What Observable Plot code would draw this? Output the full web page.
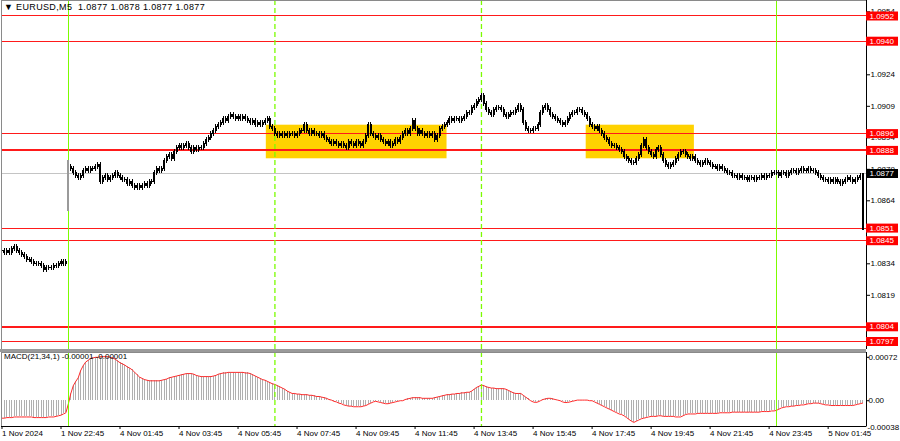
<!DOCTYPE html>
<html><head><meta charset="utf-8">
<script src="https://cdn.jsdelivr.net/npm/d3@7"></script>
<script src="https://cdn.jsdelivr.net/npm/@observablehq/plot@0.6"></script>
<style>
html,body{margin:0;padding:0;background:#fff;}
#wrap{position:relative;width:900px;height:441px;overflow:hidden;font-family:"Liberation Sans",Arial,sans-serif;background:#fff;}
#main{position:absolute;left:0;top:0;}
#sep{position:absolute;left:0;top:349px;width:866px;height:3px;background:#9a9a9a;}
#macd{position:absolute;left:0;top:352px;}
.lbl{position:absolute;font-size:8px;color:#000;white-space:pre;line-height:10px;}
#hdr{font-size:9px;letter-spacing:0.35px;}
</style></head>
<body>
<div id="wrap">
  <div id="main"></div>
  <div id="sep"></div>
  <div id="macd"></div>
  <div class="lbl" id="hdr" style="left:4px;top:2px"></div>
  <div class="lbl" id="mtitle" style="left:4px;top:352px"></div>
</div>
<script>
// ---------- DATA ----------
const headerText = "\u25BC EURUSD,M5  1.0877 1.0878 1.0877 1.0877";
const macdTitle = "MACD(21,34,1) -0.00001 -0.00001";

// M5 closes, one per bar (bar 0 = 1 Nov, bar 27 = first Monday bar)
const closes = [
1.0840,1.0839,1.0840,1.0839,1.0841,1.0842,1.0840,1.0839,1.0838,1.0837,
1.0836,1.0836,1.0835,1.0834,1.0834,1.0834,1.0833,1.0831,1.0832,1.0832,
1.0832,1.0833,1.0833,1.0834,1.0835,1.0834,1.0835,
1.0880,1.0879,1.0877,1.0876,1.0875,1.0876,1.0878,1.0879,1.0878,1.0879,
1.0879,1.0880,1.0881,1.0873,1.0875,1.0876,1.0874,1.0875,1.0876,1.0877,
1.0876,1.0875,1.0874,1.0874,1.0872,1.0873,1.0871,1.0870,1.0871,1.0870,
1.0871,1.0872,1.0871,1.0873,1.0873,1.0877,1.0879,1.0878,1.0879,1.0883,
1.0885,1.0886,1.0884,1.0887,1.0889,1.0890,1.0889,1.0890,1.0891,1.0889,
1.0887,1.0889,1.0888,1.0889,1.0889,1.0891,1.0893,1.0894,1.0896,1.0897,
1.0899,1.0900,1.0901,1.0903,1.0902,1.0904,1.0905,1.0904,1.0903,1.0904,
1.0903,1.0904,1.0903,1.0902,1.0901,1.0902,1.0900,1.0901,1.0900,1.0901,
1.0902,1.0903,1.0899,1.0898,1.0896,1.0895,1.0896,1.0895,1.0896,1.0895,
1.0896,1.0896,1.0895,1.0896,1.0897,1.0897,1.0900,1.0897,1.0896,1.0897,
1.0896,1.0896,1.0895,1.0896,1.0894,1.0893,1.0892,1.0891,1.0892,1.0891,
1.0890,1.0891,1.0890,1.0889,1.0892,1.0891,1.0890,1.0892,1.0891,1.0890,
1.0892,1.0895,1.0900,1.0896,1.0895,1.0894,1.0895,1.0893,1.0892,1.0891,
1.0892,1.0890,1.0891,1.0893,1.0892,1.0894,1.0896,1.0897,1.0896,1.0898,
1.0902,1.0898,1.0896,1.0897,1.0896,1.0895,1.0896,1.0895,1.0896,1.0893,
1.0895,1.0898,1.0899,1.0900,1.0901,1.0903,1.0902,1.0903,1.0903,1.0902,
1.0903,1.0904,1.0906,1.0906,1.0908,1.0909,1.0911,1.0912,1.0914,1.0910,
1.0907,1.0906,1.0905,1.0907,1.0908,1.0908,1.0907,1.0905,1.0904,1.0905,
1.0906,1.0906,1.0907,1.0909,1.0907,1.0901,1.0898,1.0897,1.0897,1.0898,
1.0898,1.0900,1.0906,1.0908,1.0909,1.0907,1.0905,1.0904,1.0903,1.0902,
1.0901,1.0900,1.0901,1.0903,1.0905,1.0906,1.0906,1.0907,1.0907,1.0906,
1.0905,1.0903,1.0900,1.0899,1.0898,1.0899,1.0897,1.0896,1.0894,1.0893,
1.0891,1.0890,1.0890,1.0889,1.0888,1.0887,1.0885,1.0884,1.0883,1.0882,
1.0882,1.0884,1.0886,1.0890,1.0893,1.0889,1.0887,1.0886,1.0885,1.0888,
1.0889,1.0886,1.0883,1.0881,1.0880,1.0881,1.0882,1.0884,1.0886,1.0887,
1.0887,1.0886,1.0885,1.0884,1.0885,1.0883,1.0882,1.0881,1.0882,1.0883,
1.0882,1.0881,1.0880,1.0880,1.0879,1.0880,1.0879,1.0878,1.0877,1.0877,
1.0876,1.0876,1.0875,1.0876,1.0875,1.0875,1.0874,1.0875,1.0875,1.0874,
1.0875,1.0875,1.0876,1.0875,1.0876,1.0876,1.0877,1.0877,1.0877,1.0876,
1.0877,1.0877,1.0876,1.0877,1.0878,1.0878,1.0877,1.0878,1.0879,1.0878,
1.0878,1.0879,1.0878,1.0878,1.0877,1.0876,1.0875,1.0874,1.0874,1.0873,
1.0874,1.0873,1.0874,1.0873,1.0872,1.0873,1.0874,1.0875,1.0874,1.0873,
1.0874,1.0875,1.0876,1.0877
];

// bars whose open/extremes differ from the plain close-to-close body
const mondayOpenBar = 27;
const specialBars = [
  {i: 27,  open: 1.0859, high: 1.0883, low: 1.0859, close: 1.0880},
  {i: 350, open: 1.0876, high: 1.0877, low: 1.0850, close: 1.0877}
];

// MACD(21,34,1) per bar, in units of 0.00001
const macdPts = [
-29,-29,-28,-28,-28,-27,-27,-27,-27,-27,-27,-27,-27,-28,-28,-28,-28,-28,-28,-27,
-27,-27,-26,-25,-24,-22,-20,
-5,12,25,32,38,50,58,64,67,70,
71,72,72,73,73,73,73,72,71,69,
66,63,61,59,56,54,51,47,43,39,
37,35,34,33,33,33,33,33,34,35,
36,38,39,40,41,42,43,44,45,45,
45,44,42,41,40,40,40,40,40,41,
42,44,45,46,46,47,47,47,47,47,
47,47,46,46,45,43,41,39,37,35,
34,32,30,28,27,25,23,21,19,16,
14,12,12,11,11,10,10,10,9,9,
8,7,7,6,5,4,2,1,-1,-2,
-4,-5,-7,-8,-9,-9,-10,-10,-10,-10,
-9,-8,-6,-4,-2,-1,-2,-3,-4,-5,
-5,-4,-3,-2,-1,0,0,2,3,4,
5,5,5,5,4,4,4,4,4,5,
6,7,8,9,10,10,11,11,12,12,
13,13,14,14,16,19,22,24,26,25,
23,22,21,21,20,20,20,20,19,17,
15,13,12,12,12,9,6,3,0,-2,
-3,-2,0,2,3,4,4,3,2,1,
0,-2,-3,-3,-2,-1,0,1,1,1,
1,1,0,0,-2,-4,-6,-8,-10,-12,
-14,-16,-18,-20,-22,-23,-25,-28,-31,-34,
-36,-34,-32,-30,-29,-28,-27,-26,-26,-26,
-25,-25,-26,-26,-26,-26,-26,-27,-27,-27,
-25,-23,-22,-22,-22,-22,-21,-21,-21,-21,
-21,-21,-21,-21,-21,-20,-20,-20,-20,-20,
-19,-19,-19,-19,-19,-19,-19,-19,-19,-19,
-19,-19,-18,-18,-18,-18,-17,-17,-16,-14,
-12,-11,-10,-10,-9,-9,-8,-8,-7,-7,
-6,-5,-5,-4,-4,-4,-5,-6,-7,-7,
-8,-8,-8,-8,-8,-8,-8,-8,-8,-8,
-7,-6,-5,-4
];

const levels = [1.0952, 1.0940, 1.0896, 1.0888, 1.0851, 1.0845, 1.0804, 1.0797];
const boldLevels = [1.0888, 1.0804];
const currentPrice = 1.0877;
const zones = [
  {from: 107.5, to: 181.0, high: 1.0900, low: 1.0884},
  {from: 237.6, to: 281.6, high: 1.0900, low: 1.0884}
];
const vSolid = [27, 315];
const vDashed = [111, 195];
// right-axis price ticks (those fully under a level label are left out)
const yTicks = [1.0954, 1.0924, 1.0909, 1.0894, 1.0879, 1.0864, 1.0834, 1.0819];
const macdTicks = [0.00072, 0];
const macdMinLabel = -0.00038;
const tickIdx = [0, 24, 48, 72, 96, 120, 144, 168, 192, 216, 240, 264, 288, 312, 336];
const tickLabels = ["1 Nov 2024","1 Nov 22:45","4 Nov 01:45","4 Nov 03:45","4 Nov 05:45","4 Nov 07:45",
  "4 Nov 09:45","4 Nov 11:45","4 Nov 13:45","4 Nov 15:45","4 Nov 17:45","4 Nov 19:45","4 Nov 21:45",
  "4 Nov 23:45","5 Nov 01:45"];

// ---------- DERIVED TABLES ----------
const specialIdx = new Set(specialBars.map(d => d.i));
const bars = closes.map((c, i) => {
  const o = i === 0 ? c : closes[i - 1];
  return {i, top: Math.max(o, c), bottom: Math.min(o, c)};
}).filter(d => !specialIdx.has(d.i));
const specials = specialBars.map(d => ({i: d.i, top: Math.max(d.open, d.close), bottom: Math.min(d.open, d.close), high: d.high, low: d.low}));
const gapBar = specials.filter(d => d.i === mondayOpenBar);
const otherSpecial = specials.filter(d => d.i !== mondayOpenBar);
const macd = macdPts.map((p, i) => ({i, v: p / 1e5}));
const thinLevels = levels.filter(d => !boldLevels.includes(d));

const xDomain = [-0.2, 351.6];
const font = "Liberation Sans, Arial, sans-serif";
const GREEN = "#7CFC00";
const RED = "#ff1a1a";

document.getElementById("hdr").textContent = headerText;
document.getElementById("mtitle").textContent = macdTitle;

const main = Plot.plot({
  width: 900, height: 349,
  marginLeft: 1, marginRight: 34, marginTop: 0, marginBottom: 0,
  x: {domain: xDomain, axis: null},
  y: {domain: [1.079319, 1.095938], axis: null},
  style: {fontFamily: font, fontSize: "8px", color: "#000", background: "#fff"},
  marks: [
    Plot.rect(zones, {x1: "from", x2: "to", y1: "low", y2: "high", fill: "#FFD200"}),
    Plot.ruleY([currentPrice], {stroke: "#c4c4c4", shapeRendering: "crispEdges"}),
    Plot.ruleY(thinLevels, {stroke: RED, strokeWidth: 1, shapeRendering: "crispEdges"}),
    Plot.ruleY(boldLevels, {stroke: RED, strokeWidth: 2, shapeRendering: "crispEdges"}),
    Plot.ruleX(vSolid, {stroke: GREEN, strokeWidth: 1, shapeRendering: "crispEdges"}),
    Plot.ruleX(vDashed, {stroke: GREEN, strokeWidth: 1.3, strokeDasharray: "5,3"}),
    // candles: wick + body
    Plot.ruleX(bars, {x: "i", y1: "top", y2: "bottom", stroke: "#000", strokeWidth: 1, insetTop: -2.5, insetBottom: -2.5, shapeRendering: "crispEdges"}),
    Plot.ruleX(bars, {x: "i", y1: "top", y2: "bottom", stroke: "#000", strokeWidth: 2, insetTop: -0.5, insetBottom: -0.5, shapeRendering: "crispEdges"}),
    Plot.ruleX(gapBar, {x: "i", y1: "high", y2: "low", stroke: "#9a9a9a", strokeWidth: 2, shapeRendering: "crispEdges"}),
    Plot.ruleX(otherSpecial, {x: "i", y1: "high", y2: "low", stroke: "#000", strokeWidth: 2, shapeRendering: "crispEdges"}),
    Plot.frame({stroke: "#8a8a8a"}),
    Plot.ruleX([xDomain[1]], {stroke: "#000"}),
    Plot.axisY({anchor: "right", label: null, ticks: yTicks, tickFormat: d => d.toFixed(4), tickSize: 3, tickPadding: 1, fontSize: 8}),
    // right-axis price labels for levels
    Plot.ruleY(levels, {stroke: "#ff0000", strokeWidth: 9, insetLeft: 865, insetRight: -32}),
    Plot.text(levels, {y: d => d, text: d => d.toFixed(4), frameAnchor: "right", textAnchor: "start", dx: 3, fill: "#fff", fontSize: 8}),
    Plot.ruleY([currentPrice], {stroke: "#000", strokeWidth: 9, insetLeft: 865, insetRight: -32}),
    Plot.text([currentPrice], {y: d => d, text: d => d.toFixed(4), frameAnchor: "right", textAnchor: "start", dx: 3, fill: "#fff", fontSize: 8})
  ]
});
document.getElementById("main").appendChild(main);

const macdPlot = Plot.plot({
  width: 900, height: 89,
  marginLeft: 1, marginRight: 34, marginTop: 0, marginBottom: 15,
  x: {domain: xDomain, axis: null},
  y: {domain: [-0.000428, 0.0008], axis: null},
  style: {fontFamily: font, fontSize: "8px", color: "#000", background: "#fff"},
  marks: [
    Plot.ruleX(macd, {x: "i", y1: 0, y2: "v", stroke: "#b0b0b0", strokeWidth: 1, shapeRendering: "crispEdges"}),
    Plot.line(macd, {x: "i", y: "v", stroke: "#ff2a2a", strokeWidth: 1}),
    Plot.ruleX(vSolid, {stroke: GREEN, strokeWidth: 1, shapeRendering: "crispEdges"}),
    Plot.ruleX(vDashed, {stroke: GREEN, strokeWidth: 1.3, strokeDasharray: "5,3"}),
    Plot.frame({stroke: "#8a8a8a"}),
    Plot.ruleX([xDomain[1]], {stroke: "#000"}),
    Plot.ruleY([-0.000428], {stroke: "#000"}),
    Plot.axisY({anchor: "right", label: null, ticks: macdTicks, tickFormat: d => d === 0 ? "0.00" : d.toFixed(5), tickSize: 2, tickPadding: 0, fontSize: 8}),
    Plot.text([macdMinLabel], {y: d => d, text: d => d.toFixed(5), frameAnchor: "right", textAnchor: "start", dx: 1, dy: 4, fill: "#000", fontSize: 8}),
    Plot.axisX({anchor: "bottom", label: null, ticks: tickIdx, tickFormat: d => tickLabels[tickIdx.indexOf(d)], tickSize: 3, tickPadding: 1, textAnchor: "start", fontSize: 8})
  ]
});
document.getElementById("macd").appendChild(macdPlot);
</script>
</body></html>
